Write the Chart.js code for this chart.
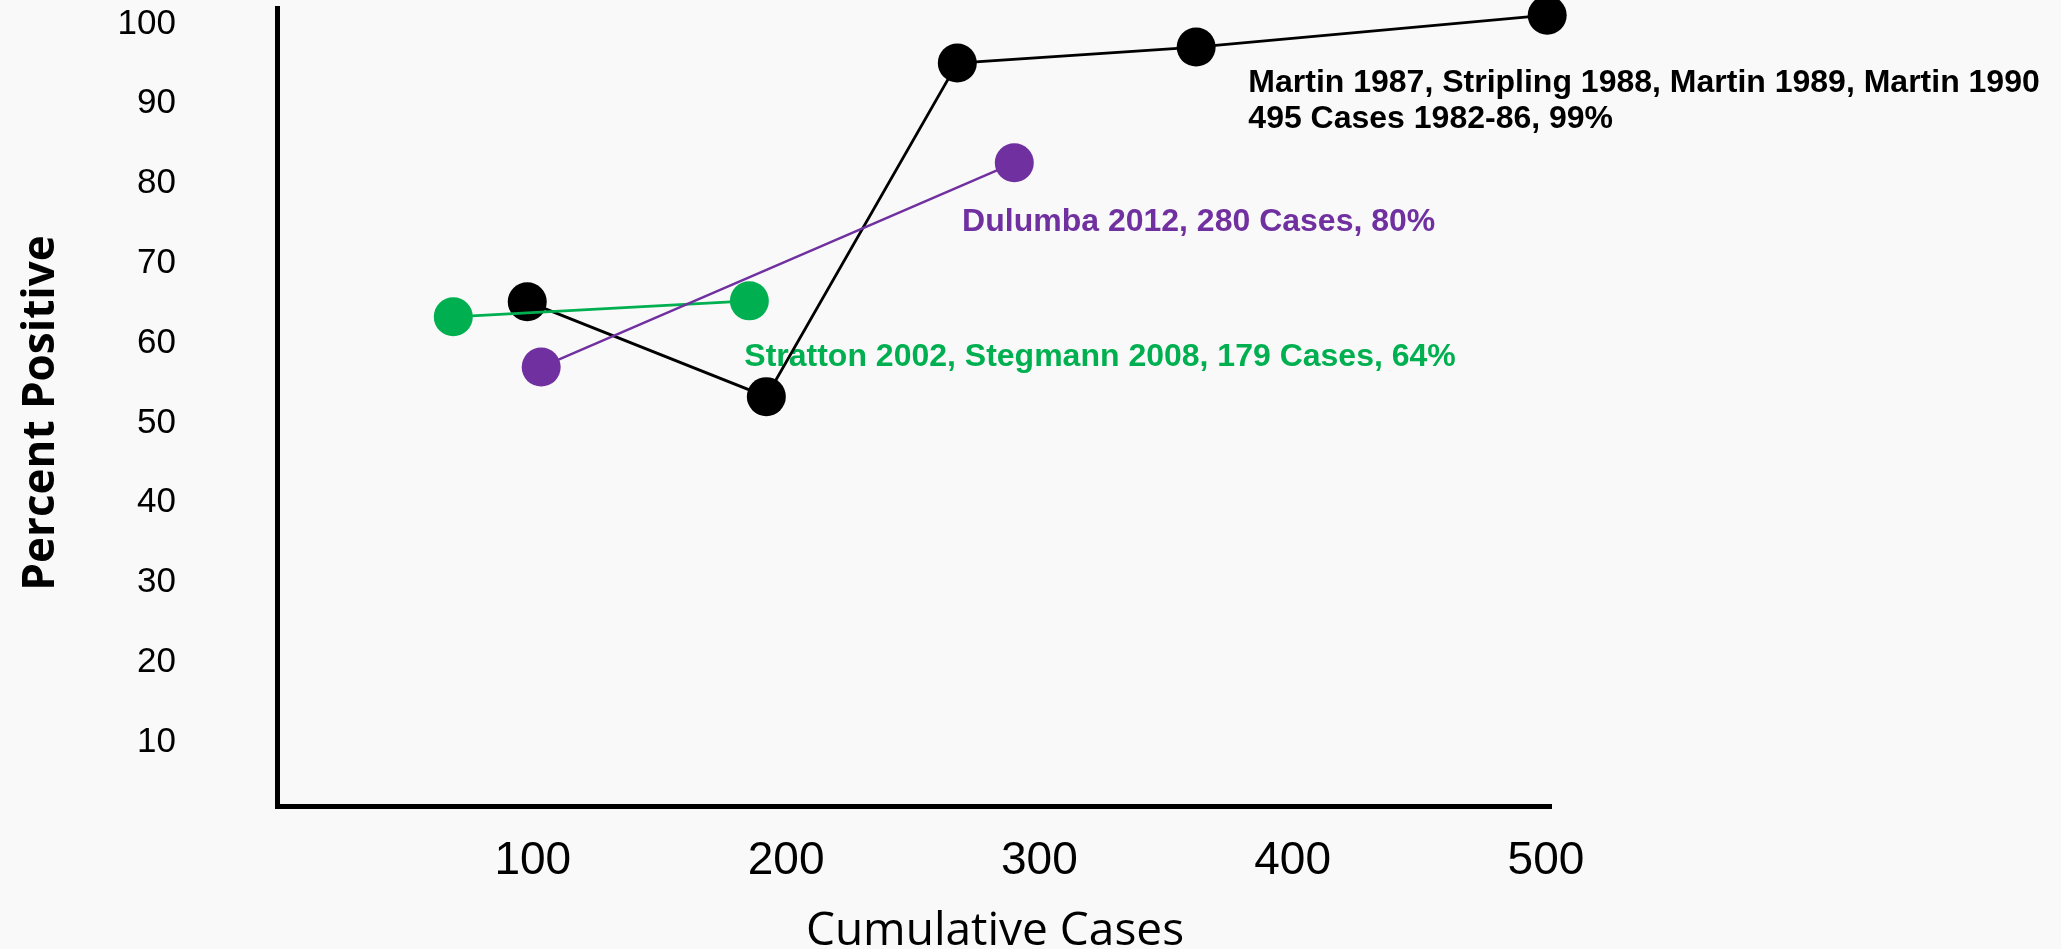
<!DOCTYPE html>
<html>
<head>
<meta charset="utf-8">
<script src="https://cdn.jsdelivr.net/npm/chart.js@4.4.1/dist/chart.umd.min.js"></script>
<style>
html, body { margin: 0; padding: 0; background: #f9f9f9; }
#wrap { width: 2061px; height: 949px; position: relative; }
</style>
</head>
<body>
<div id="wrap"><canvas id="c"></canvas></div>
<script>
// ---- data ----
const xTickValues = [100, 200, 300, 400, 500];
const yTickValues = [10, 20, 30, 40, 50, 60, 70, 80, 90, 100];

const martinCases   = [97.8, 192.2, 267.6, 361.9, 500.5];
const martinPercent = [65.2, 53.3, 95.1, 97.1, 101.1];

const strattonCases   = [68.6, 185.5];
const strattonPercent = [63.3, 65.3];

const dulumbaCases   = [103.3, 290.1];
const dulumbaPercent = [57.0, 82.6];

const martinLabel   = ['Martin 1987, Stripling 1988, Martin 1989, Martin 1990', '495 Cases 1982-86, 99%'];
const dulumbaLabel  = ['Dulumba 2012, 280 Cases, 80%'];
const strattonLabel = ['Stratton 2002, Stegmann 2008, 179 Cases, 64%'];

const xTitle = 'Cumulative Cases';
const yTitle = 'Percent Positive';

// ---- styling / helpers ----
const COLORS = { martin: '#000000', stratton: '#00B050', dulumba: '#7030A0' };
const ARIAL = '"Liberation Sans", Arial, sans-serif';
const toPts = (xs, ys) => xs.map((x, i) => ({ x: x, y: ys[i] }));

// annotation anchors (data units, left / baseline of first line)
const annotations = [
  { lines: martinLabel,   x: 382.5, y: 91.5,  color: COLORS.martin },
  { lines: dulumbaLabel,  x: 269.5, y: 74.06, color: COLORS.dulumba },
  { lines: strattonLabel, x: 183.5, y: 57.1,  color: COLORS.stratton }
];

const bgPlugin = {
  id: 'bg',
  beforeDraw(chart) {
    const c = chart.ctx;
    c.save();
    c.fillStyle = '#f9f9f9';
    c.fillRect(0, 0, chart.width, chart.height);
    c.restore();
  }
};

const notePlugin = {
  id: 'notes',
  beforeDatasetsDraw(chart) {
    const ctx = chart.ctx;
    const xs = chart.scales.x, ys = chart.scales.y;
    ctx.save();
    ctx.font = 'bold 32px ' + ARIAL;
    ctx.textAlign = 'left';
    ctx.textBaseline = 'alphabetic';
    annotations.forEach(a => {
      ctx.fillStyle = a.color;
      const px = xs.getPixelForValue(a.x);
      const py = ys.getPixelForValue(a.y);
      a.lines.forEach((t, i) => ctx.fillText(t, px, py + i * 36));
    });
    ctx.restore();
  }
};

const titlePlugin = {
  id: 'titles',
  afterDraw(chart) {
    const ctx = chart.ctx;
    ctx.save();
    ctx.fillStyle = '#000';
    ctx.textAlign = 'center';
    ctx.textBaseline = 'alphabetic';
    ctx.font = '46px "Open Sans", sans-serif';
    ctx.fillText(xTitle, 995, 945);
    ctx.font = 'bold 44px "Open Sans", sans-serif';
    ctx.translate(54, 413);
    ctx.rotate(-Math.PI / 2);
    ctx.fillText(yTitle, 0, 0);
    ctx.restore();
  }
};

function series(label, xs, ys, color, width) {
  return {
    label: label,
    data: toPts(xs, ys),
    showLine: true,
    borderColor: color,
    backgroundColor: color,
    borderWidth: width,
    pointRadius: 19.5,
    pointHoverRadius: 19.5,
    pointBorderWidth: 0,
    pointBackgroundColor: color,
    pointBorderColor: color,
    clip: false
  };
}

new Chart(document.getElementById('c'), {
  type: 'scatter',
  data: {
    datasets: [
      series('Dulumba 2012', dulumbaCases, dulumbaPercent, COLORS.dulumba, 2.4),
      series('Stratton 2002, Stegmann 2008', strattonCases, strattonPercent, COLORS.stratton, 2.8),
      series('Martin 1987-1990', martinCases, martinPercent, COLORS.martin, 2.8)
    ]
  },
  options: {
    responsive: true,
    maintainAspectRatio: false,
    animation: false,
    events: [],
    layout: { autoPadding: false, padding: { top: 8, right: 510, bottom: 0, left: 0 } },
    plugins: { legend: { display: false }, tooltip: { enabled: false } },
    scales: {
      x: {
        type: 'linear',
        min: -1,
        max: 502,
        grid: { display: false, drawTicks: false },
        border: { display: true, color: '#000', width: 5 },
        ticks: {
          color: '#000',
          font: { family: ARIAL, size: 46, lineHeight: 1 },
          padding: 32,
          maxRotation: 0,
          autoSkip: false
        },
        afterBuildTicks(s) { s.ticks = xTickValues.map(v => ({ value: v })); },
        afterFit(s) {
          s.height = 143;
          s.paddingLeft = 0; s.paddingRight = 0; s.paddingTop = 0; s.paddingBottom = 0;
        }
      },
      y: {
        type: 'linear',
        min: 2,
        max: 102,
        grid: { display: false, drawTicks: false },
        border: { display: true, color: '#000', width: 5 },
        ticks: {
          color: '#000',
          font: { family: ARIAL, size: 35 },
          padding: 101,
          autoSkip: false
        },
        afterBuildTicks(s) { s.ticks = yTickValues.map(v => ({ value: v })); },
        afterFit(s) {
          s.width = 277;
          s.paddingLeft = 0; s.paddingRight = 0; s.paddingTop = 0; s.paddingBottom = 0;
        }
      }
    }
  },
  plugins: [bgPlugin, notePlugin, titlePlugin]
});
</script>
</body>
</html>
